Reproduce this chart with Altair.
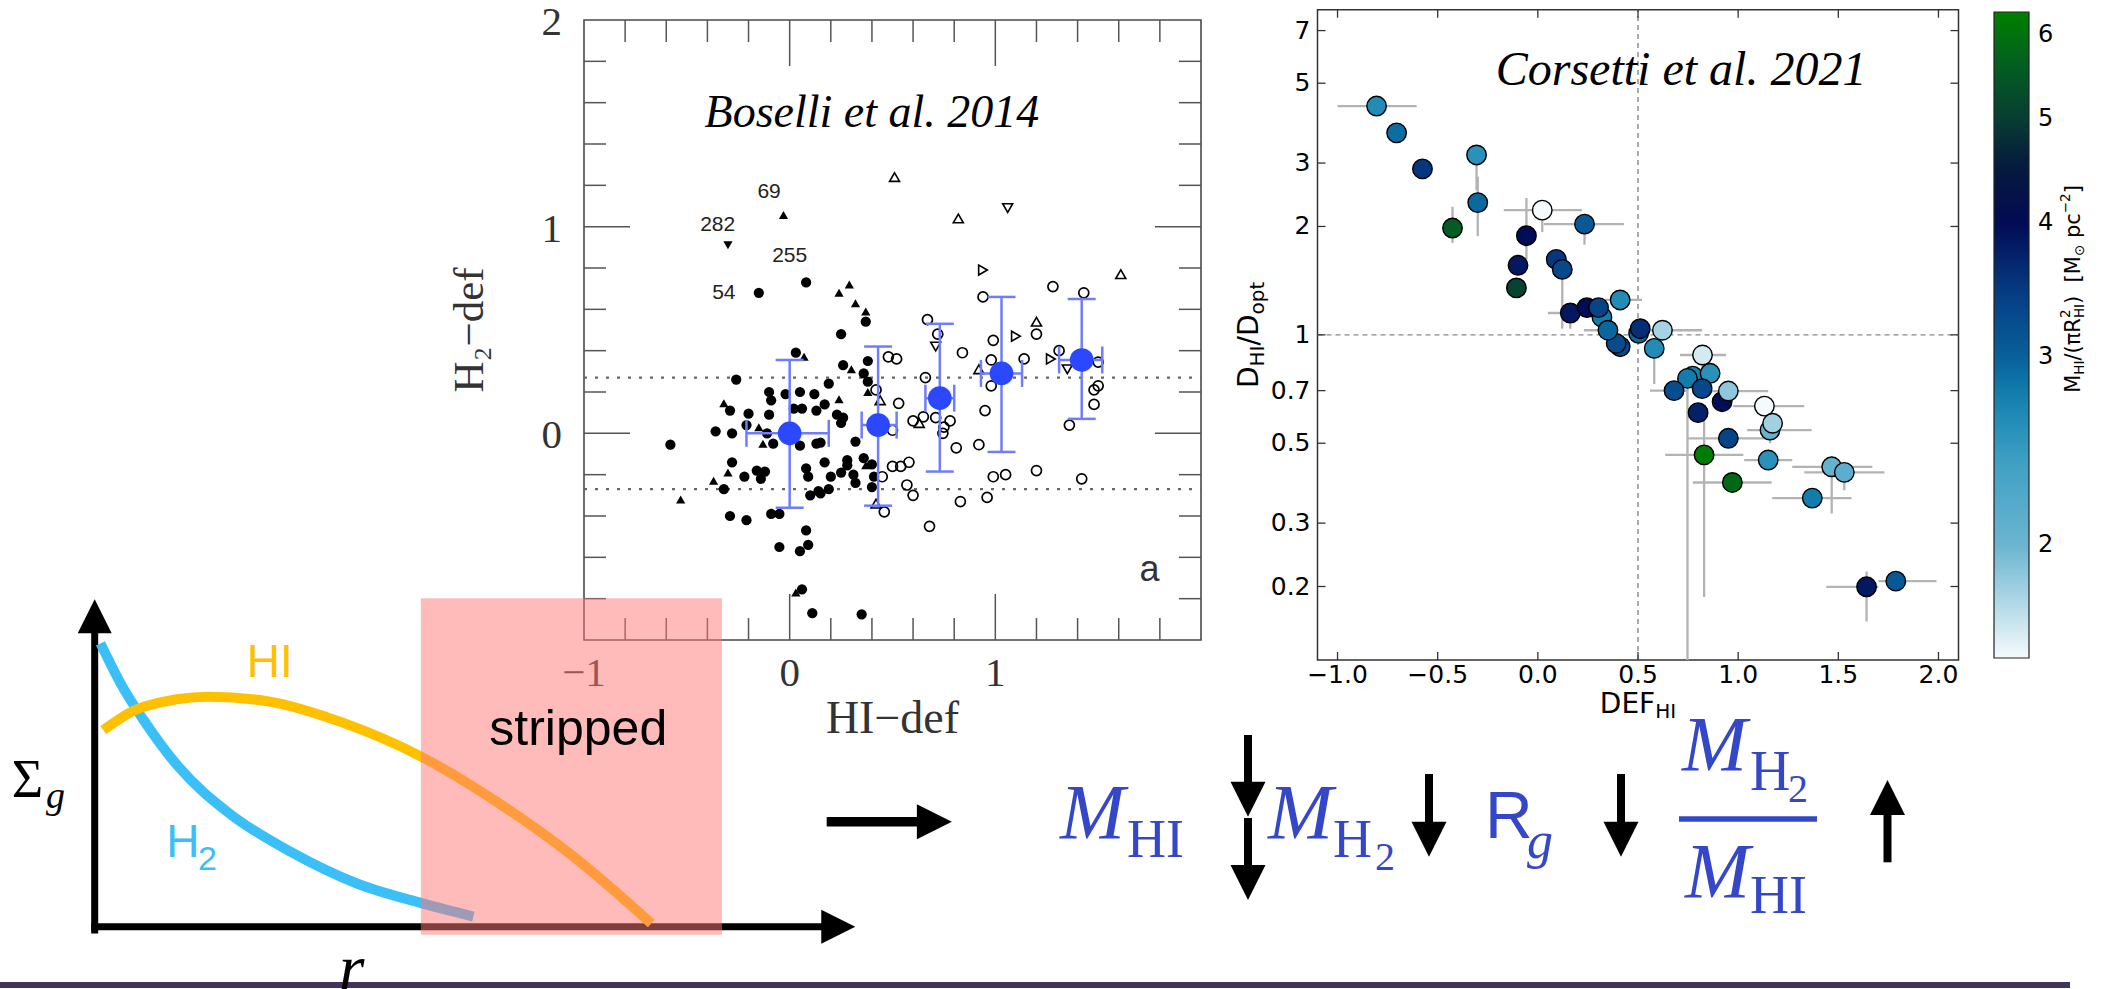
import altair as alt
import pandas as pd

SERIF = "Liberation Serif"
SANS = "Liberation Sans"
DEJAVU = "DejaVu Sans"
EQ_BLUE = "#3547c9"

# ------------------------------------------------------------------
# Boselli et al. 2014 : H2-deficiency against HI-deficiency
# ------------------------------------------------------------------
bos_filled_circles = [
    (-0.58, -0.055), (-0.15, 0.68), (0.08, 0.73), (0.03, 0.39), (-0.26, 0.26),
    (-0.29, 0.11), (-0.20, 0.095), (-0.36, 0.01), (-0.28, 0.0), (-0.21, 0.04),
    (-0.10, 0.20), (-0.09, 0.16), (-0.10, 0.09), (-0.11, 0.0), (-0.08, -0.05),
    (-0.02, 0.19), (0.05, 0.20), (0.12, 0.19), (0.02, 0.12), (0.06, 0.12),
    (0.05, -0.06), (0.13, -0.05), (-0.28, -0.14), (-0.16, -0.18), (-0.12, -0.185),
    (0.08, -0.17), (-0.22, -0.21), (-0.32, -0.27), (-0.14, -0.22), (0.09, -0.21),
    (0.10, -0.30), (0.14, -0.28), (-0.29, -0.40), (-0.21, -0.42), (-0.09, -0.39),
    (-0.05, -0.39), (0.08, -0.47), (-0.05, -0.55), (0.05, -0.57), (0.09, -0.54),
    (0.06, -0.755), (0.11, -0.87), (0.35, -0.876), (0.25, 0.48), (0.37, 0.54),
    (0.26, 0.33), (0.38, 0.35), (0.36, 0.29), (0.38, 0.25), (0.19, 0.24),
    (0.17, 0.14), (0.13, 0.11), (0.23, 0.09), (0.26, 0.076), (0.25, 0.05),
    (0.32, -0.04), (0.15, -0.045), (0.17, -0.14), (0.28, -0.13), (0.28, -0.155),
    (0.36, -0.12), (0.40, -0.15), (0.20, -0.21), (0.25, -0.19), (0.31, -0.20),
    (0.32, -0.24), (0.40, -0.26), (0.41, -0.21), (0.15, -0.29), (0.19, -0.27),
]
bos_filled_up = [
    (-0.53, -0.32), (-0.37, -0.23), (-0.30, -0.19), (-0.32, 0.145), (-0.15, 0.03),
    (-0.13, -0.05), (0.07, 0.37), (0.29, 0.72), (0.24, 0.68), (0.32, 0.63),
    (0.37, 0.59), (0.24, 0.165), (0.30, 0.31), (0.38, 0.20), (0.37, -0.155),
    (0.03, -0.77), (-0.03, 1.057),
]
bos_filled_down = [(-0.30, 0.91)]
bos_open_circles = [
    (0.94, 0.66), (0.67, 0.55), (0.72, 0.48), (0.48, 0.37), (0.52, 0.36),
    (0.84, 0.39), (0.99, 0.45), (0.98, 0.355), (0.66, 0.27), (0.98, 0.23),
    (0.95, 0.11), (0.42, 0.21), (0.53, 0.145), (0.60, 0.06), (0.65, 0.08),
    (0.71, 0.076), (0.78, 0.06), (0.75, 0.03), (0.745, 0.0), (0.81, -0.07),
    (0.92, -0.055), (0.50, 0.015), (0.50, -0.16), (0.54, -0.16), (0.58, -0.14),
    (0.45, -0.21), (0.57, -0.25), (0.60, -0.30), (0.83, -0.33), (0.99, -0.21),
    (1.05, -0.20), (0.96, -0.31), (0.68, -0.45), (0.46, -0.38), (1.28, 0.71),
    (1.43, 0.68), (1.20, 0.48), (1.14, 0.36), (1.31, 0.40), (1.50, 0.345),
    (1.50, 0.23), (1.48, 0.21), (1.48, 0.14), (1.36, 0.04), (1.20, -0.18),
    (1.42, -0.22),
]
bos_open_up = [(0.51, 1.24), (0.82, 1.04), (0.92, 0.31), (0.44, 0.16),
               (0.63, 0.05), (0.42, -0.34), (1.61, 0.77), (1.20, 0.54)]
bos_open_down = [(1.06, 1.09), (0.71, 0.42), (1.35, 0.31)]
bos_open_right = [(0.94, 0.79), (1.10, 0.47), (1.27, 0.36)]

bos_bin_x = [0.0, 0.43, 0.73, 1.03, 1.42]
bos_bin_y = [0.0, 0.04, 0.17, 0.29, 0.355]
bos_bin_xlo = [-0.21, 0.35, 0.66, 0.93, 1.31]
bos_bin_xhi = [0.19, 0.52, 0.80, 1.13, 1.52]
bos_bin_ylo = [-0.36, -0.35, -0.185, -0.09, 0.07]
bos_bin_yhi = [0.355, 0.42, 0.53, 0.66, 0.65]

bos_ids = ["69", "282", "255", "54"]
bos_id_x = [-0.10, -0.35, 0.0, -0.32]
bos_id_y = [1.17, 1.01, 0.86, 0.68]

bos_band = [0.27, -0.27]
bos_minor = [-0.8, -0.6, -0.4, -0.2, 0.2, 0.4, 0.6, 0.8, 1.2, 1.4, 1.6, 1.8]
bos_major = [0, 1]
bos_ylabels = [0, 1, 2]
bos_xlabels = [-1, 0, 1]

# ------------------------------------------------------------------
# Corsetti et al. 2021 : D_HI/D_opt against DEF_HI
# ------------------------------------------------------------------
cor_x = [-0.805, -0.705, -0.576, -0.306, -0.300, -0.426, 0.022, 0.233, -0.057, -0.099,
         -0.107, 0.092, 0.122, 0.320, 0.162, 0.245, 0.303, 0.411, 0.411, 0.391,
         0.350, 0.503, 0.511, 0.581, 0.622, 0.822, 0.773, 0.747, 0.860, 0.920,
         0.680, 0.820, 0.951, 0.800, 0.830, 0.951, 0.971, 1.131, 1.159, 1.172,
         1.150, 1.370, 1.467, 1.530, 1.641, 1.787]
cor_y = [4.32, 3.64, 2.89, 3.16, 2.33, 1.98, 2.22, 2.03, 1.885, 1.56,
         1.35, 1.62, 1.52, 1.12, 1.15, 1.19, 1.19, 1.25, 0.927, 0.947,
         1.03, 1.01, 1.04, 0.917, 1.03, 0.879, 0.768, 0.757, 0.782, 0.652,
         0.70, 0.709, 0.698, 0.608, 0.464, 0.516, 0.389, 0.634, 0.544, 0.568,
         0.449, 0.352, 0.43, 0.415, 0.1996, 0.207]
cor_sigma = [2.62, 2.9, 3.5, 2.56, 2.93, 5.55, 1.57, 3.1, 4.0, 3.85,
             5.1, 3.5, 3.3, 2.78, 3.85, 4.0, 3.35, 2.62, 3.3, 3.25,
             2.95, 2.93, 3.6, 2.62, 1.8, 1.66, 2.74, 2.78, 2.56, 3.96,
             3.25, 3.3, 1.88, 3.75, 6.2, 3.35, 5.8, 1.57, 2.06, 1.82,
             2.56, 2.78, 2.06, 2.12, 3.85, 3.1]
cor_xlo = [-1.0, None, None, None, None, None, -0.17, 0.03, None, None,
           None, None, None, None, 0.05, None, None, 0.30, None, None,
           0.23, None, None, None, 0.45, 0.71, None, None, None, None,
           0.56, None, 0.81, None, 0.636, 0.75, 0.774, 0.975, 1.045, None,
           1.03, 1.17, 1.27, 1.33, 1.44, 1.70]
cor_xhi = [-0.605, None, None, None, None, None, 0.22, 0.43, None, None,
           None, None, None, None, 0.25, None, None, 0.52, None, None,
           0.40, None, None, None, 0.82, 0.94, None, None, None, None,
           0.75, None, 1.15, None, 1.026, 1.15, 1.167, 1.33, 1.367, None,
           1.27, 1.566, 1.67, 1.73, 1.70, 1.99]
cor_ylo = [None, None, 2.76, 2.52, 1.88, 1.80, 1.93, 1.78, 1.62, None,
           None, None, 1.04, None, 1.04, None, None, None, None, None,
           None, None, None, 0.73, None, 0.80, None, 0.125, None, None,
           None, None, None, None, 0.187, None, None, None, 0.50, None,
           None, None, 0.319, 0.37, 0.16, None]
cor_yhi = [None, None, 3.02, 3.16, 2.75, 2.27, 2.22, 2.03, 2.40, None,
           None, None, 1.52, None, 1.15, None, None, None, None, None,
           None, None, None, 0.917, None, 0.93, None, 0.757, None, None,
           None, None, None, None, 0.58, None, None, None, 0.544, None,
           None, None, 0.459, 0.415, 0.22, None]

cor_xticks = [-1.0, -0.5, 0.0, 0.5, 1.0, 1.5, 2.0]
cor_xtick_text = ["\u22121.0", "\u22120.5", "0.0", "0.5", "1.0", "1.5", "2.0"]
cor_yticks = [0.2, 0.3, 0.5, 0.7, 1, 2, 3, 5, 7]
cor_ytick_text = ["0.2", "0.3", "0.5", "0.7", "1", "2", "3", "5", "7"]

# colour bar of M_HI / (pi R_HI^2), logarithmic
cbar_values = [1.57, 1.75, 2.0, 2.39, 2.74, 3.0, 3.42, 4.0, 4.54, 5.0, 5.65, 6.3]
cbar_colors = ["#f5fafc", "#b5dbe8", "#6cb5d0", "#3fa0c4", "#1482b0", "#08609a",
               "#063f85", "#020b55", "#061a3c", "#073d33", "#036020", "#008000"]
cbar_ticks = [2, 3, 4, 5, 6]

# ------------------------------------------------------------------
# Sketch of the gas surface-density profiles
# ------------------------------------------------------------------
hi_r = [0.113, 0.642, 1.51, 2.30, 3.28, 4.30, 5.25, 6.30, 7.32]
hi_s = [6.02, 6.73, 7.04, 6.89, 6.23, 5.20, 3.88, 2.14, 0.10]
h2_r = [0.076, 0.34, 0.642, 1.10, 1.77, 2.61, 3.44, 4.30, 4.98]
h2_s = [8.67, 7.45, 6.33, 4.90, 3.47, 2.25, 1.33, 0.72, 0.31]
stripped_r = [4.29, 8.25]
stripped_s = [-0.25, 10.05]

ONE = pd.DataFrame({"k": [0]})


def pts(pairs):
    return pd.DataFrame(pairs, columns=["x", "y"])


# DejaVu Sans advance widths (em) for composed labels with sub/superscripts
DV_W = {"M": 0.863, "H": 0.752, "I": 0.295, "D": 0.770, "E": 0.632, "F": 0.575,
        "/": 0.337, "(": 0.390, ")": 0.390, "\u03c0": 0.602, "R": 0.695, "2": 0.636,
        "\u2212": 0.838, " ": 0.318, "[": 0.390, "]": 0.390, "\u2299": 0.838,
        "p": 0.635, "c": 0.550, "o": 0.612, "t": 0.392}


def dv_width(t, size):
    return sum(DV_W.get(c, 0.6) for c in t) * size


def composite(make, pieces, angle, base_dy, font=DEJAVU, color="black"):
    """Lay out (text, size, shift, advances) pieces centred on one anchor."""
    total = sum(dv_width(t, s) for t, s, sh, adv in pieces if adv)
    pos = -total / 2
    out = []
    for t, s, sh, adv in pieces:
        lead = len(t) - len(t.lstrip(" "))
        out.append(make(dict(text=t.strip(), font=font, fontSize=s, color=color,
                             align="left", baseline="alphabetic", angle=angle,
                             dx=pos + lead * DV_W[" "] * s, dy=base_dy + sh)))
        if adv:
            pos += dv_width(t, s)
    return out


def box_ticks(xf, yf, xlim, ylim, xvals, yvals, L, color, w):
    ny, nx = len(yvals), len(xvals)
    dy_ = pd.DataFrame({"v": yvals, "lo": [xlim[0]] * ny, "hi": [xlim[1]] * ny})
    dx_ = pd.DataFrame({"v": xvals, "lo": [ylim[0]] * nx, "hi": [ylim[1]] * nx})
    kw = dict(size=L, thickness=w, color=color, opacity=1)
    return [
        alt.Chart(dy_).mark_tick(orient="horizontal", xOffset=L / 2, **kw).encode(x=xf("lo"), y=yf("v")),
        alt.Chart(dy_).mark_tick(orient="horizontal", xOffset=-L / 2, **kw).encode(x=xf("hi"), y=yf("v")),
        alt.Chart(dx_).mark_tick(orient="vertical", yOffset=-L / 2, **kw).encode(x=xf("v"), y=yf("lo")),
        alt.Chart(dx_).mark_tick(orient="vertical", yOffset=L / 2, **kw).encode(x=xf("v"), y=yf("hi")),
    ]


# ================= Boselli panel =================
BXS = alt.Scale(domain=[-1, 2], range=[584, 1201], nice=False, zero=False)
BYS = alt.Scale(domain=[-1, 2], range=[640, 20], nice=False, zero=False)


def bx(f):
    return alt.X(f, type="quantitative", scale=BXS, axis=None)


def by(f):
    return alt.Y(f, type="quantitative", scale=BYS, axis=None)


b_layers = []
b_layers.append(alt.Chart(pd.DataFrame({"x0": [-1], "x1": [2], "y0": [-1], "y1": [2]}))
                .mark_rect(fillOpacity=0, stroke="#4a4a4a", strokeWidth=1.6)
                .encode(x=bx("x0"), x2="x1", y=by("y0"), y2="y1"))
b_layers += box_ticks(bx, by, (-1, 2), (-1, 2), bos_minor, bos_minor, 22, "#555555", 1.5)
b_layers += box_ticks(bx, by, (-1, 2), (-1, 2), bos_major, bos_major, 46, "#555555", 1.5)
b_layers.append(alt.Chart(pd.DataFrame({"y": bos_band, "x0": [-1, -1], "x1": [2, 2]}))
                .mark_rule(color="#666666", strokeWidth=2.2, strokeDash=[3, 8])
                .encode(x=bx("x0"), x2="x1", y=by("y")))
b_layers.append(alt.Chart(pts(bos_filled_circles)).mark_circle(size=105, color="black", opacity=1)
                .encode(x=bx("x"), y=by("y")))
b_layers.append(alt.Chart(pts(bos_filled_up)).mark_point(shape="triangle-up", filled=True, size=85,
                                                         color="black", opacity=1)
                .encode(x=bx("x"), y=by("y")))
b_layers.append(alt.Chart(pts(bos_filled_down)).mark_point(shape="triangle-down", filled=True, size=85,
                                                           color="black", opacity=1)
                .encode(x=bx("x"), y=by("y")))
b_layers.append(alt.Chart(pts(bos_open_circles)).mark_point(shape="circle", filled=False, size=100,
                                                            color="black", strokeWidth=1.7, opacity=1)
                .encode(x=bx("x"), y=by("y")))
for pairs, shp in [(bos_open_up, "triangle-up"), (bos_open_down, "triangle-down"),
                   (bos_open_right, "triangle-right")]:
    b_layers.append(alt.Chart(pts(pairs)).mark_point(shape=shp, filled=False, size=100, color="black",
                                                     strokeWidth=1.6, opacity=1)
                    .encode(x=bx("x"), y=by("y")))

bins = pd.DataFrame({"x": bos_bin_x, "y": bos_bin_y, "xlo": bos_bin_xlo, "xhi": bos_bin_xhi,
                     "ylo": bos_bin_ylo, "yhi": bos_bin_yhi})
ERR = "#6f7dfd"
b_layers.append(alt.Chart(bins).mark_rule(color=ERR, strokeWidth=2.5)
                .encode(x=bx("x"), y=by("ylo"), y2="yhi"))
b_layers.append(alt.Chart(bins).mark_rule(color=ERR, strokeWidth=2.5)
                .encode(x=bx("xlo"), x2="xhi", y=by("y")))
for f in ["ylo", "yhi"]:
    b_layers.append(alt.Chart(bins).mark_tick(orient="horizontal", size=28, thickness=2.5, color=ERR, opacity=1)
                    .encode(x=bx("x"), y=by(f)))
for f in ["xlo", "xhi"]:
    b_layers.append(alt.Chart(bins).mark_tick(orient="vertical", size=27, thickness=2.5, color=ERR, opacity=1)
                    .encode(x=bx(f), y=by("y")))
b_layers.append(alt.Chart(bins).mark_circle(size=560, color="#2b48ff", opacity=1)
                .encode(x=bx("x"), y=by("y")))

b_layers.append(alt.Chart(pd.DataFrame({"t": bos_ids, "x": bos_id_x, "y": bos_id_y}))
                .mark_text(font=SANS, fontSize=21, color="#222222", align="center", baseline="middle")
                .encode(x=bx("x"), y=by("y"), text="t:N"))
b_layers.append(alt.Chart(pd.DataFrame({"v": bos_ylabels, "t": [str(v) for v in bos_ylabels],
                                        "e": [-1] * len(bos_ylabels)}))
                .mark_text(font=SERIF, fontSize=41, color="#333333", align="right", baseline="middle",
                           dx=-22, dy=3)
                .encode(x=bx("e"), y=by("v"), text="t:N"))
b_layers.append(alt.Chart(pd.DataFrame({"v": bos_xlabels, "t": ["\u22121", "0", "1"],
                                        "e": [-1] * len(bos_xlabels)}))
                .mark_text(font=SERIF, fontSize=41, color="#333333", align="center", baseline="middle", dy=34)
                .encode(x=bx("v"), y=by("e"), text="t:N"))
b_layers.append(alt.Chart(pd.DataFrame({"x": [0.5], "y": [-1]}))
                .mark_text(text="HI\u2212def", font=SERIF, fontSize=46, color="#333333", align="center",
                           baseline="alphabetic", dy=93)
                .encode(x=bx("x"), y=by("y")))
b_layers.append(alt.Chart(pd.DataFrame({"x": [-1], "y": [0.5]}))
                .mark_text(text="H\u2082\u2212def", font=SERIF, fontSize=43, color="#333333", align="center",
                           baseline="middle", angle=270, dy=-114)
                .encode(x=bx("x"), y=by("y")))
b_layers.append(alt.Chart(pd.DataFrame({"x": [0.40], "y": [1.548]}))
                .mark_text(text="Boselli et al. 2014", font=SERIF, fontStyle="italic", fontSize=46,
                           align="center", baseline="middle")
                .encode(x=bx("x"), y=by("y")))
b_layers.append(alt.Chart(pd.DataFrame({"x": [1.75], "y": [-0.66]}))
                .mark_text(text="a", font=SANS, fontSize=36, color="#333333", align="center", baseline="middle")
                .encode(x=bx("x"), y=by("y")))
boselli = alt.layer(*b_layers)

# ================= Corsetti panel =================
CXS = alt.Scale(domain=[-1.1, 2.1], range=[1317.5, 1958.5], nice=False, zero=False)
CYS = alt.Scale(type="log", domain=[0.125, 8], range=[660, 9.7], nice=False)


def cx(f):
    return alt.X(f, type="quantitative", scale=CXS, axis=None)


def cy(f):
    return alt.Y(f, type="quantitative", scale=CYS, axis=None)


cdf = pd.DataFrame({"x": cor_x, "y": cor_y, "s": cor_sigma, "xlo": cor_xlo, "xhi": cor_xhi,
                    "ylo": cor_ylo, "yhi": cor_yhi})
hbars = cdf.dropna(subset=["xlo", "xhi"])[["x", "y", "xlo", "xhi"]]
vbars = cdf.dropna(subset=["ylo", "yhi"])[["x", "y", "ylo", "yhi"]]
cpts = cdf[["x", "y", "s"]]

c_layers = []
c_layers.append(alt.Chart(pd.DataFrame({"x0": [-1.1], "x1": [2.1], "y0": [0.125], "y1": [8]}))
                .mark_rect(fillOpacity=0, stroke="#333333", strokeWidth=1.5)
                .encode(x=cx("x0"), x2="x1", y=cy("y0"), y2="y1"))
c_layers.append(alt.Chart(pd.DataFrame({"x": [0.5], "y0": [0.125], "y1": [8]}))
                .mark_rule(color="#888888", strokeWidth=1.4, strokeDash=[5, 4])
                .encode(x=cx("x"), y=cy("y0"), y2="y1"))
c_layers.append(alt.Chart(pd.DataFrame({"y": [1.0], "x0": [-1.1], "x1": [2.1]}))
                .mark_rule(color="#888888", strokeWidth=1.4, strokeDash=[5, 4])
                .encode(x=cx("x0"), x2="x1", y=cy("y")))
c_layers.append(alt.Chart(hbars).mark_rule(color="#b3b3b3", strokeWidth=2.3)
                .encode(x=cx("xlo"), x2="xhi", y=cy("y")))
c_layers.append(alt.Chart(vbars).mark_rule(color="#b3b3b3", strokeWidth=2.3)
                .encode(x=cx("x"), y=cy("ylo"), y2="yhi"))
c_layers.append(alt.Chart(cpts).mark_circle(size=380, stroke="black", strokeWidth=1.4, opacity=1)
                .encode(x=cx("x"), y=cy("y"),
                        color=alt.Color("s", type="quantitative",
                                        scale=alt.Scale(type="log", domain=cbar_values, range=cbar_colors,
                                                        interpolate="rgb"),
                                        legend=alt.Legend(orient="none", legendX=1994, legendY=12,
                                                          direction="vertical", gradientLength=646,
                                                          gradientThickness=35, title=None,
                                                          values=cbar_ticks, format="d",
                                                          labelFont=DEJAVU, labelFontSize=24,
                                                          labelColor="black", labelOffset=9,
                                                          labelOverlap=False,
                                                          gradientStrokeColor="#222222",
                                                          gradientStrokeWidth=1.2, padding=0))))
c_layers += box_ticks(cx, cy, (-1.1, 2.1), (0.125, 8), cor_xticks, cor_yticks, 8, "#333333", 1.3)
c_layers.append(alt.Chart(pd.DataFrame({"v": cor_yticks, "t": cor_ytick_text,
                                        "e": [-1.1] * len(cor_yticks)}))
                .mark_text(font=DEJAVU, fontSize=25, align="right", baseline="middle", dx=-7)
                .encode(x=cx("e"), y=cy("v"), text="t:N"))
c_layers.append(alt.Chart(pd.DataFrame({"v": cor_xticks, "t": cor_xtick_text,
                                        "e": [0.125] * len(cor_xticks)}))
                .mark_text(font=DEJAVU, fontSize=25, align="center", baseline="middle", dy=15)
                .encode(x=cx("v"), y=cy("e"), text="t:N"))
c_layers.append(alt.Chart(pd.DataFrame({"x": [0.715], "y": [5.4]}))
                .mark_text(text="Corsetti et al. 2021", font=SERIF, fontStyle="italic", fontSize=48,
                           align="center", baseline="middle")
                .encode(x=cx("x"), y=cy("y")))

xt_anchor = pd.DataFrame({"x": [0.5], "y": [0.125]})
c_layers += composite(lambda kw: alt.Chart(xt_anchor).mark_text(**kw).encode(x=cx("x"), y=cy("y")),
                      [("DEF", 28, 0, True), ("HI", 20, 5, True)], 0, 53)
yt_anchor = pd.DataFrame({"x": [-1.1], "y": [1.0]})
c_layers += composite(lambda kw: alt.Chart(yt_anchor).mark_text(**kw).encode(x=cx("x"), y=cy("y")),
                      [("D", 28, 0, True), ("HI", 20, 6, True), ("/D", 28, 0, True), ("opt", 20, 6, True)],
                      270, -59.5)
corsetti = alt.layer(*c_layers)

# ================= surface-density sketch =================
SXS = alt.Scale(domain=[0, 10], range=[94.7, 855], nice=False, zero=False)
SYS = alt.Scale(domain=[0, 10], range=[926.7, 600], nice=False, zero=False)


def sx(f):
    return alt.X(f, type="quantitative", scale=SXS, axis=None)


def sy(f):
    return alt.Y(f, type="quantitative", scale=SYS, axis=None)


def s_text(s, r, v, size, font=SANS, color="black", style="normal", align="left"):
    return (alt.Chart(pd.DataFrame({"r": [r], "v": [v]}))
            .mark_text(text=s, font=font, fontSize=size, color=color, fontStyle=style, align=align,
                       baseline="alphabetic")
            .encode(x=sx("r"), y=sy("v")))


s_layers = []
s_layers.append(alt.Chart(pd.DataFrame({"r": [0], "s0": [-0.1], "s1": [8.98]}))
                .mark_rule(color="black", strokeWidth=7, strokeCap="square")
                .encode(x=sx("r"), y=sy("s0"), y2="s1"))
s_layers.append(alt.Chart(pd.DataFrame({"r0": [0], "r1": [9.55], "s": [0]}))
                .mark_rule(color="black", strokeWidth=7, strokeCap="square")
                .encode(x=sx("r0"), x2="r1", y=sy("s")))
s_layers.append(alt.Chart(pd.DataFrame({"r": [0], "s": [9.5]}))
                .mark_point(shape="M0,-1L-1,1L1,1Z", size=1156, filled=True, color="black", opacity=1,
                            strokeWidth=0)
                .encode(x=sx("r"), y=sy("s")))
s_layers.append(alt.Chart(pd.DataFrame({"r": [9.78], "s": [0]}))
                .mark_point(shape="M1,0L-1,-1L-1,1Z", size=1156, filled=True, color="black", opacity=1,
                            strokeWidth=0)
                .encode(x=sx("r"), y=sy("s")))
s_layers.append(alt.Chart(pd.DataFrame({"r": h2_r, "s": h2_s}))
                .mark_line(color="#3bbff8", strokeWidth=10, interpolate="monotone", strokeCap="butt")
                .encode(x=sx("r"), y=sy("s")))
s_layers.append(alt.Chart(pd.DataFrame({"r": hi_r, "s": hi_s}))
                .mark_line(color="#ffc000", strokeWidth=10, interpolate="monotone", strokeCap="butt")
                .encode(x=sx("r"), y=sy("s")))
s_layers.append(s_text("HI", 2.0, 7.64, 46, color="#ffc000"))
s_layers.append(s_text("H", 0.94, 2.13, 46, color="#3bbff8"))
s_layers.append(s_text("2", 1.36, 1.74, 34, color="#3bbff8"))
s_layers.append(s_text("\u03a3", -1.09, 3.97, 54, font=SERIF))
s_layers.append(s_text("g", -0.64, 3.63, 38, font=SERIF, style="italic"))
s_layers.append(alt.Chart(pd.DataFrame({"r0": [stripped_r[0]], "r1": [stripped_r[1]],
                                        "s0": [stripped_s[0]], "s1": [stripped_s[1]]}))
                .mark_rect(color="#ff7777", opacity=0.506)
                .encode(x=sx("r0"), x2="r1", y=sy("s0"), y2="s1"))
s_layers.append(s_text("stripped", 6.36, 5.56, 50, align="center"))
s_layers.append(s_text("r", 3.21, -1.94, 66, font=SERIF, style="italic"))

# ================= slide furniture =================
backdrop = alt.Chart(ONE).mark_rule(color="#40345f", strokeWidth=6).encode(
    x=alt.value(0), x2=alt.value(2070), y=alt.value(985))


def ptext(s, x, y, size, font=SERIF, color=EQ_BLUE, style="normal", align="left"):
    return (alt.Chart(ONE)
            .mark_text(text=s, font=font, fontSize=size, fontStyle=style, color=color, align=align,
                       baseline="alphabetic")
            .encode(x=alt.value(x), y=alt.value(y)))


def v_arrow(x, y_tail, y_tip, w=8, head=35):
    down = y_tip > y_tail
    base = y_tip - head if down else y_tip + head
    shaft = (alt.Chart(ONE).mark_rule(color="black", strokeWidth=w)
             .encode(x=alt.value(x), y=alt.value(y_tail), y2=alt.value(base + (2 if down else -2))))
    shape = "M-1,-1L1,-1L0,1Z" if down else "M0,-1L-1,1L1,1Z"
    hd = (alt.Chart(ONE).mark_point(shape=shape, size=head * head, filled=True, color="black", opacity=1,
                                    strokeWidth=0)
          .encode(x=alt.value(x), y=alt.value((y_tip + base) / 2)))
    return [shaft, hd]


o_layers = []
o_layers.append(alt.Chart(ONE).mark_rule(color="black", strokeWidth=9.6)
                .encode(x=alt.value(826.7), x2=alt.value(919), y=alt.value(821.7)))
o_layers.append(alt.Chart(ONE).mark_point(shape="M1,0L-1,-1L-1,1Z", size=1225, filled=True, color="black",
                                          opacity=1, strokeWidth=0)
                .encode(x=alt.value(934.4), y=alt.value(821.7)))
# M_HI
o_layers.append(ptext("M", 1060, 838, 78, style="italic"))
o_layers.append(ptext("HI", 1127, 857, 54))
o_layers += v_arrow(1248, 735, 816.7)
o_layers += v_arrow(1248, 818, 900)
# M_H2
o_layers.append(ptext("M", 1268, 838, 78, style="italic"))
o_layers.append(ptext("H", 1333, 857, 54))
o_layers.append(ptext("2", 1375, 870, 40))
o_layers += v_arrow(1429, 774, 856.7)
# R_g
o_layers.append(ptext("R", 1485, 838, 66, font=SANS))
o_layers.append(ptext("g", 1527, 858, 52, style="italic"))
o_layers += v_arrow(1621, 774, 856.7)
# M_H2 / M_HI
o_layers.append(ptext("M", 1682, 770, 78, style="italic"))
o_layers.append(ptext("H", 1750, 790, 56))
o_layers.append(ptext("2", 1788, 802, 40))
o_layers.append(alt.Chart(ONE).mark_rule(color=EQ_BLUE, strokeWidth=5.5)
                .encode(x=alt.value(1679), x2=alt.value(1817), y=alt.value(819)))
o_layers.append(ptext("M", 1685, 897, 78, style="italic"))
o_layers.append(ptext("HI", 1750, 913, 54))
o_layers += v_arrow(1887.5, 862.3, 780)
# colour-bar label
o_layers += composite(lambda kw: alt.Chart(ONE).mark_text(**kw).encode(x=alt.value(2080), y=alt.value(289)),
                      [("M", 21, 0, True), ("HI", 13.5, 4, True), ("/(\u03c0R", 21, 0, True),
                       ("2", 13.5, -10, False), ("HI", 13.5, 4, True), (")", 21, 0, True),
                       ("  [M", 21, 0, True), ("\u2299", 13.5, 4, True), (" pc", 21, 0, True),
                       ("\u22122", 13.5, -10, True), ("]", 21, 0, True)],
                      270, 0)

chart = (
    alt.layer(backdrop, boselli, corsetti, alt.layer(*s_layers), alt.layer(*o_layers))
    .resolve_scale(x="independent", y="independent")
    .properties(width=2108, height=989, padding=0, autosize=alt.AutoSizeParams(type="none"))
    .configure_view(strokeWidth=0)
)

chart.save("out.html", embed_options={"renderer": "svg", "actions": False})
